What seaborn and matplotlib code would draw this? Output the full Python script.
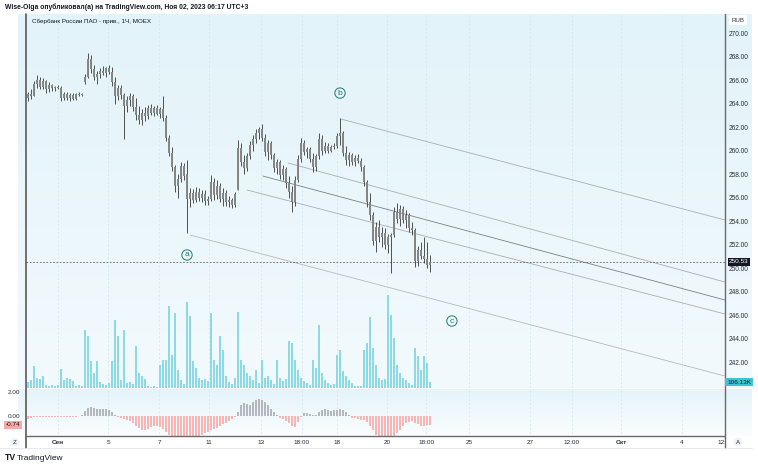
import numpy as np
import pandas as pd
import matplotlib
matplotlib.use("Agg")
import matplotlib.pyplot as plt
import matplotlib.transforms as mtransforms
from matplotlib.colors import LinearSegmentedColormap
from matplotlib.lines import Line2D
import seaborn as sns

# ---------------- data (hourly bars, Sberbank pref, MOEX) ----------------
opens = [264.5, 264.8, 264.6, 265.7, 266.0, 265.4, 265.9, 265.2, 265.6, 265.3,
         265.4, 265.3, 264.5, 264.8, 264.5, 264.7, 264.4, 264.8, 264.7, 265.8,
         266.3, 267.8, 266.9, 266.3, 266.5, 266.8, 266.6, 267.0, 266.7, 265.8,
         264.6, 265.3, 264.7, 263.8, 264.3, 264.6, 263.7, 263.0, 262.6, 263.2,
         262.9, 263.6, 263.2, 263.6, 263.1, 263.5, 262.8, 261.1, 259.8, 258.6,
         257.0, 257.6, 258.7, 258.0, 255.9, 256.4, 255.8, 256.5, 256.0, 256.3,
         255.7, 255.9, 257.3, 256.2, 257.0, 255.9, 256.4, 255.6, 255.8, 255.4,
         256.6, 260.2, 259.0, 258.5, 259.5, 260.5, 261.0, 261.5, 261.8, 261.1,
         259.9, 260.6, 259.6, 258.5, 259.0, 257.9, 258.4, 257.2, 256.5, 255.6,
         257.5, 259.3, 260.6, 259.9, 260.1, 259.3, 258.6, 259.5, 261.0, 260.0,
         260.4, 260.0, 260.3, 260.4, 261.2, 261.5, 259.8, 259.2, 259.6, 259.0,
         259.4, 259.1, 258.6, 257.3, 255.6, 254.5, 252.3, 253.5, 252.6, 253.0,
         252.0, 252.6, 252.8, 254.8, 254.2, 255.0, 254.1, 254.5, 253.4, 253.2,
         250.6, 251.5, 251.0, 250.8, 250.3]
highs = [265.0, 265.2, 265.9, 266.4, 266.3, 266.2, 266.0, 265.8, 265.7, 265.5,
         265.6, 265.5, 265.0, 265.0, 264.9, 264.9, 264.9, 265.0, 264.9, 266.5,
         268.3, 268.1, 267.3, 266.8, 267.0, 267.2, 267.1, 267.3, 267.1, 266.3,
         265.6, 265.6, 264.9, 264.6, 264.9, 264.8, 264.5, 263.8, 263.5, 263.7,
         263.9, 264.0, 263.8, 263.9, 263.7, 264.6, 263.0, 261.3, 260.3, 258.8,
         258.0, 259.0, 258.9, 259.2, 256.8, 256.7, 256.9, 256.8, 256.6, 256.6,
         256.1, 257.9, 257.7, 257.5, 257.2, 256.8, 256.6, 256.1, 256.0, 256.5,
         260.9, 260.6, 259.6, 259.8, 260.8, 261.3, 261.8, 262.0, 262.3, 261.4,
         260.9, 260.8, 259.8, 259.3, 259.2, 258.8, 258.6, 257.8, 257.0, 257.8,
         259.6, 261.1, 260.9, 260.3, 260.3, 259.8, 259.7, 261.5, 261.3, 260.7,
         260.6, 260.5, 260.6, 261.5, 262.8, 261.7, 260.4, 259.9, 259.8, 259.6,
         259.7, 259.4, 258.8, 257.5, 256.4, 254.8, 253.9, 254.1, 253.5, 253.4,
         252.9, 253.0, 255.2, 255.5, 255.4, 255.3, 254.9, 254.7, 253.9, 253.4,
         251.9, 252.2, 252.6, 252.2, 251.1]
lows = [264.2, 264.4, 264.6, 265.3, 265.2, 265.2, 264.9, 265.0, 265.1, 265.1,
        265.2, 264.2, 264.3, 264.3, 264.2, 264.3, 264.3, 264.6, 264.6, 265.7,
        266.2, 266.6, 266.0, 265.7, 266.2, 266.4, 266.3, 266.5, 265.5, 264.0,
        264.3, 264.4, 261.0, 263.3, 263.8, 263.4, 262.6, 262.3, 262.2, 262.5,
        262.7, 263.0, 262.9, 263.0, 262.8, 262.5, 260.8, 259.5, 258.3, 256.5,
        256.0, 257.3, 257.5, 253.0, 255.2, 255.5, 255.6, 255.7, 255.6, 255.4,
        255.4, 255.7, 255.8, 255.9, 255.6, 255.3, 255.3, 255.2, 255.1, 255.2,
        256.6, 258.7, 258.0, 258.3, 259.3, 260.0, 260.6, 261.0, 260.8, 259.5,
        259.2, 259.3, 258.2, 258.0, 257.6, 257.5, 256.8, 256.0, 254.8, 255.3,
        257.3, 259.0, 259.6, 259.4, 259.0, 258.2, 258.3, 259.3, 259.6, 259.8,
        259.8, 259.9, 260.1, 260.2, 260.5, 259.5, 258.8, 258.7, 258.8, 258.7,
        258.9, 258.3, 257.0, 255.2, 254.1, 252.0, 251.4, 252.2, 251.8, 251.6,
        251.3, 249.6, 252.6, 253.8, 253.6, 253.8, 253.4, 253.1, 252.8, 250.1,
        250.2, 250.8, 250.4, 250.0, 249.7]
closes = [264.8, 264.6, 265.7, 266.0, 265.4, 265.9, 265.2, 265.6, 265.3, 265.4,
          265.3, 264.5, 264.8, 264.5, 264.7, 264.4, 264.8, 264.7, 264.8, 266.3,
          267.8, 266.9, 266.3, 266.5, 266.8, 266.6, 267.0, 266.7, 265.8, 264.6,
          265.3, 264.7, 263.8, 264.3, 264.6, 263.7, 263.0, 262.6, 263.2, 262.9,
          263.6, 263.2, 263.6, 263.1, 263.5, 262.8, 261.1, 259.8, 258.6, 257.0,
          257.6, 258.7, 257.8, 255.9, 256.4, 255.8, 256.5, 256.0, 256.3, 255.7,
          255.9, 257.3, 256.2, 257.0, 255.9, 256.4, 255.6, 255.8, 255.4, 256.3,
          260.2, 259.0, 258.5, 259.5, 260.5, 261.0, 261.5, 261.8, 261.1, 259.9,
          260.6, 259.6, 258.5, 259.0, 257.9, 258.4, 257.2, 256.5, 255.6, 257.5,
          259.3, 260.6, 259.9, 260.1, 259.3, 258.6, 259.5, 261.0, 260.0, 260.4,
          260.0, 260.3, 260.4, 261.2, 261.5, 259.8, 259.2, 259.6, 259.0, 259.4,
          259.1, 258.6, 257.3, 255.6, 254.5, 252.3, 253.5, 252.6, 253.0, 252.0,
          252.6, 252.8, 254.8, 254.2, 255.0, 254.1, 254.5, 253.4, 253.2, 250.6,
          251.5, 251.0, 250.8, 250.3, 250.53]
volume_k = [106, 142, 389, 177, 159, 212, 53, 35, 53, 35,
            53, 336, 142, 177, 159, 124, 35, 53, 35, 1027,
            920, 478, 266, 478, 106, 71, 53, 88, 478, 1204,
            920, 142, 1027, 88, 106, 71, 743, 266, 212, 159,
            35, 18, 35, 18, 407, 496, 496, 1451, 584, 1328,
            319, 142, 71, 1522, 1274, 478, 354, 177, 142, 159,
            124, 1328, 496, 407, 920, 673, 212, 106, 71, 177,
            1345, 496, 407, 266, 212, 142, 319, 88, 496, 177,
            212, 142, 71, 496, 177, 124, 159, 832, 797, 496,
            319, 177, 124, 88, 53, 496, 354, 1115, 266, 142,
            88, 53, 71, 584, 673, 301, 212, 142, 88, 35,
            35, 35, 673, 797, 1257, 708, 407, 177, 142, 159,
            1646, 1292, 885, 407, 266, 177, 142, 88, 53, 708,
            566, 319, 566, 443, 106.13]
osc = [-0.25, -0.2, -0.12, -0.08, -0.05, -0.05, -0.06, -0.08, -0.08, -0.1,
       -0.1, -0.08, -0.08, -0.08, -0.07, -0.05, -0.05, -0.04, 0.05, 0.4,
       0.7, 0.75, 0.68, 0.62, 0.62, 0.6, 0.58, 0.5, 0.35, 0.12,
       -0.05, -0.15, -0.22, -0.3, -0.4, -0.6, -0.8, -1.0, -1.15, -1.2,
       -1.05, -0.9, -0.85, -0.85, -0.9, -1.05, -1.3, -1.6, -1.9, -2.0,
       -2.0, -1.95, -1.9, -1.95, -1.9, -1.8, -1.75, -1.7, -1.55, -1.4,
       -1.3, -1.2, -1.1, -1.0, -0.85, -0.7, -0.55, -0.4, -0.25, -0.1,
       0.3, 0.9, 1.1, 1.0, 0.9, 1.15, 1.3, 1.4, 1.35, 1.2,
       0.95, 0.6, 0.3, 0.05, -0.15, -0.25, -0.4, -0.6, -0.85, -0.9,
       -0.5, -0.05, 0.25, 0.25, 0.2, 0.1, 0.1, 0.3, 0.5, 0.55,
       0.5, 0.45, 0.5, 0.5, 0.55, 0.5, 0.35, 0.05, -0.15, -0.2,
       -0.25, -0.3, -0.35, -0.5, -0.8, -1.2, -1.6, -1.9, -2.0, -2.0,
       -2.0, -1.95, -1.7, -1.4, -1.15, -0.85, -0.6, -0.5, -0.45, -0.55,
       -0.7, -0.85, -0.8, -0.75, -0.74]

x_tick_pos = [10.0, 26.7, 43.7, 60.3, 77.7, 91.3, 103.0, 119.7, 132.7,
              147.0, 167.3, 181.3, 197.7, 218.0, 231.3]
x_tick_labels = ['Сен', '5', '7', '11', '13', '18:00', '18', '20', '18:00',
                 '25', '27', '12:00', 'Окт', '4', '12:']
price_ticks = [242, 244, 246, 248, 250, 252, 254, 256, 258, 260, 262, 264, 266, 268, 270]

# drawn trend lines: (bar0, price0, bar1, price1)
line_x0 = [104.3, 86.7, 78.3, 73.0, 54.0]
line_p0 = [262.68, 258.94, 257.83, 256.64, 252.81]
line_x1 = [232.3, 232.3, 232.3, 232.3, 232.3]
line_p1 = [254.09, 248.81, 247.28, 246.09, 240.81]
line_col = ['#a9adb3', '#a9adb3', '#7c8086', '#a9adb3', '#b5b9bf']

wave_labels = ['a', 'b', 'c']
wave_x = [53.0, 104.0, 141.3]
wave_y = [251.11, 264.89, 245.49]

last_price = 250.53
last_volume_k = 106.13
osc_last = -0.74

# ---------------- figure ----------------
sns.set_theme(style="white")
plt.rcParams['font.family'] = ['Liberation Sans', 'DejaVu Sans']

W, H = 758, 466
fig = plt.figure(figsize=(W / 100, H / 100), dpi=100)
fig.patch.set_facecolor('white')


def rect(x0, y0, x1, y1):
    return [x0 / W, 1 - y1 / H, (x1 - x0) / W, (y1 - y0) / H]


def grad_axes(x0, y0, x1, y1, top, bottom):
    bg = fig.add_axes(rect(x0, y0, x1, y1), zorder=-5)
    cmap = LinearSegmentedColormap.from_list('g', [top, bottom])
    bg.imshow(np.linspace(0, 1, 256).reshape(-1, 1), aspect='auto', cmap=cmap,
              extent=[0, 1, 0, 1], origin='upper')
    bg.axis('off')
    return bg


grad_axes(18, 14, 752, 388, '#e2f3f9', '#f3fafd')
grad_axes(18, 389, 752, 436, '#e4f4fa', '#fbfdfe')

XMIN, XMAX = -0.667, 232.33
PMIN, PMAX = 239.79, 271.62
VTOP = 374 * 17.7

ax = fig.add_axes(rect(26, 14, 725, 388), zorder=1)
ax.patch.set_alpha(0)
axv = ax.twinx()
axv.set_zorder(2)
axv.patch.set_alpha(0)
axo = fig.add_axes(rect(26, 389, 725, 436), zorder=1, sharex=ax)
axo.patch.set_alpha(0)

idx = np.arange(len(closes))
o = np.array(opens)
c = np.array(closes)

# vertical grid
for a in (ax, axo):
    a.vlines(x_tick_pos[:-1], -1000, 1000, color='#cfe5ee', lw=0.5,
             linestyles=(0, (3, 3)), zorder=0)

# volume (seaborn)
dfv = pd.DataFrame({'bar': idx, 'vol': volume_k})
sns.barplot(data=dfv, x='bar', y='vol', native_scale=True, color='#8cdae4',
            saturation=1, width=0.6, errorbar=None, linewidth=0, ax=axv, zorder=1)

# candles
ax.vlines(idx, lows, highs, color='#444444', lw=0.65, zorder=3)
ax.vlines(idx, np.minimum(o, c), np.maximum(o, c), color='#858585', lw=1.4, zorder=4)

# trend lines
for x0, p0, x1, p1, col in zip(line_x0, line_p0, line_x1, line_p1, line_col):
    ax.plot([x0, x1], [p0, p1], color=col, lw=0.6, zorder=2)

ax.axhline(last_price, color='#5d606b', lw=0.6, ls=(0, (2, 2)), zorder=2)

for lab, xx, yy in zip(wave_labels, wave_x, wave_y):
    ax.text(xx, yy, lab, ha='center', va='center', fontsize=6, color='#1d7a6c',
            zorder=6, bbox=dict(boxstyle='circle,pad=0.2', fc='none', ec='#1d7a6c', lw=0.7))

# oscillator (seaborn)
dfo = pd.DataFrame({'bar': idx, 'val': osc,
                    'sign': ['pos' if v >= 0 else 'neg' for v in osc]})
sns.barplot(data=dfo, x='bar', y='val', hue='sign', native_scale=True, dodge=False,
            palette={'pos': '#b5b7bf', 'neg': '#f6b6b6'}, saturation=1, width=0.55,
            errorbar=None, legend=False, linewidth=0, ax=axo)

# limits / axes
ax.set_xlim(XMIN, XMAX)
ax.set_ylim(PMIN, PMAX)
axv.set_ylim(0, VTOP)
axo.set_ylim(-1.67, 2.25)

for a in (ax, axv, axo):
    for s in a.spines.values():
        s.set_visible(False)
    a.set_xlabel('')
    a.set_ylabel('')

ax.yaxis.set_ticks_position('right')
ax.set_yticks(price_ticks)
ax.set_yticklabels([f'{p:.2f}' for p in price_ticks])
ax.tick_params(axis='y', length=0, pad=3, labelsize=4.7, colors='#2a2e39')
ax.tick_params(axis='x', length=0, labelbottom=False)
axv.set_yticks([])
axv.tick_params(axis='x', length=0, labelbottom=False)

axo.set_xticks(x_tick_pos)
axo.set_xticklabels(x_tick_labels)
axo.tick_params(axis='x', length=0, pad=3, labelsize=4.6, colors='#2a2e39')
for t in axo.get_xticklabels():
    if t.get_text() in ('Сен', 'Окт'):
        t.set_fontweight('bold')
axo.set_yticks([0, 2])
axo.set_yticklabels(['0.00', '2.00'])
axo.yaxis.set_ticks_position('left')
axo.tick_params(axis='y', length=0, pad=4, labelsize=4.6, colors='#2a2e39')
ax.set_xlim(XMIN, XMAX)


# separators
def fline(x0, y0, x1, y1, col, lw):
    fig.add_artist(Line2D([x0 / W, x1 / W], [1 - y0 / H, 1 - y1 / H],
                          transform=fig.transFigure, color=col, lw=lw, zorder=20))


fline(26, 14, 26, 448, '#5a5a5a', 1.2)
fline(725, 14, 725, 448, '#6a6a6a', 1.0)
fline(26, 436, 725, 436, '#6a6a6a', 1.0)
fline(0, 448, 752, 448, '#e3e6ec', 0.6)

# price / volume labels on the right axis
bt = mtransforms.blended_transform_factory(fig.transFigure, ax.transData)
fig.text(739 / W, last_price, f'{last_price:.2f}', transform=bt, ha='center', va='center',
         fontsize=4.6, color='white', zorder=30,
         bbox=dict(boxstyle='square,pad=0.25', fc='#131722', ec='none'))
btv = mtransforms.blended_transform_factory(fig.transFigure, axv.transData)
fig.text(739 / W, last_volume_k, f'{last_volume_k:.2f}K', transform=btv, ha='center',
         va='center', fontsize=4.6, color='#131722', zorder=30,
         bbox=dict(boxstyle='square,pad=0.25', fc='#3fc3d6', ec='none'))
bto = mtransforms.blended_transform_factory(fig.transFigure, axo.transData)
fig.text(13 / W, osc_last, f'{osc_last:.2f}', transform=bto, ha='center', va='center',
         fontsize=4.6, color='#131722', zorder=30,
         bbox=dict(boxstyle='square,pad=0.25', fc='#f5a9a9', ec='none'))
fig.text(738 / W, 1 - 20 / H, 'RUB', ha='center', va='center', fontsize=4.4,
         color='#2a2e39', zorder=30, bbox=dict(boxstyle='square,pad=0.35', fc='white', ec='none'))

# texts
fig.text(5 / W, 1 - 7 / H, 'Wise-Olga опубликовал(а) на TradingView.com, Ноя 02, 2023 06:17 UTC+3',
         ha='left', va='center', fontsize=4.9, color='#131722', fontweight='bold')
fig.text(32 / W, 1 - 21 / H, 'Сбербанк России ПАО - прив., 1Ч, MOEX', ha='left', va='center',
         fontsize=4.5, color='#131722')
fig.text(15 / W, 1 - 442 / H, 'Z', ha='center', va='center', fontsize=4.4, color='#2a2e39',
         zorder=30, bbox=dict(boxstyle='circle,pad=0.3', fc='#eef1f6', ec='none'))
fig.text(738 / W, 1 - 442 / H, 'A', ha='center', va='center', fontsize=4.4, color='#2a2e39',
         zorder=30, bbox=dict(boxstyle='circle,pad=0.3', fc='#eef1f6', ec='none'))
fig.text(5 / W, 1 - 458 / H, 'TV', ha='left', va='center', fontsize=6.2, color='#131722',
         fontweight='heavy')
fig.text(17 / W, 1 - 458 / H, 'TradingView', ha='left', va='center', fontsize=6,
         color='#131722')

fig.savefig('out.png', dpi=100, facecolor='white')
